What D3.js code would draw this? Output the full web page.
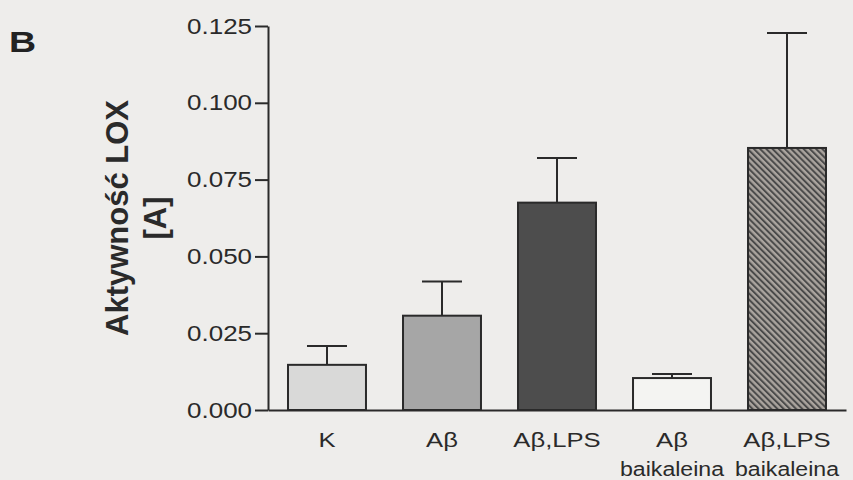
<!DOCTYPE html>
<html>
<head>
<meta charset="utf-8">
<script src="https://cdn.jsdelivr.net/npm/d3@7"></script>
<style>
  html, body { margin: 0; padding: 0; background: #eeedeb; }
  svg { display: block; font-family: "Liberation Sans", Arial, sans-serif; }
</style>
</head>
<body>
<svg id="chart" width="853" height="480"></svg>
<script>
// data
const categories = ['K', 'A\u03b2', 'A\u03b2,LPS', 'A\u03b2', 'A\u03b2,LPS'];
const subLabels = ['', '', '', 'baikaleina', 'baikaleina'];
const means = [0.0147, 0.0307, 0.0675, 0.0104, 0.0853];
const sems = [0.0061, 0.0111, 0.0145, 0.0013, 0.0374];
const fills = ['#d9d9d8', '#a6a6a6', '#4d4d4d', '#f4f4f2', 'url(#hatch)'];
const yTicks = [0, 0.025, 0.05, 0.075, 0.1, 0.125];

const ink = '#2a2a2a';
const svg = d3.select('#chart');

// hatch for the last bar
const defs = svg.append('defs');
const hatch = defs.append('pattern')
    .attr('id', 'hatch')
    .attr('patternUnits', 'userSpaceOnUse')
    .attr('width', 4.4)
    .attr('height', 4.4)
    .attr('patternTransform', 'rotate(-45)');
hatch.append('rect')
    .attr('width', 4.4).attr('height', 4.4)
    .attr('fill', '#aaa49e');
hatch.append('line')
    .attr('x1', 1).attr('x2', 1)
    .attr('y1', 0).attr('y2', 4.4)
    .attr('stroke', '#4a4a4a')
    .attr('stroke-width', 2);

const idx = d3.range(categories.length);

const x = d3.scaleBand()
    .domain(idx)
    .range([268, 846])
    .paddingInner(0.322)
    .paddingOuter(0.174);

const y = d3.scaleLinear()
    .domain([0, 0.125])
    .range([410, 26]);

// bars
svg.append('g')
    .selectAll('rect')
    .data(idx)
    .enter()
    .append('rect')
    .attr('x', i => x(i))
    .attr('y', i => y(means[i]))
    .attr('width', x.bandwidth())
    .attr('height', i => y(0) - y(means[i]))
    .attr('fill', i => fills[i])
    .attr('stroke', ink)
    .attr('stroke-width', 2);

// error bars (upper only)
const err = svg.append('g')
    .attr('stroke', ink)
    .attr('stroke-width', 2);
err.selectAll('line.stem')
    .data(idx)
    .enter()
    .append('line')
    .attr('class', 'stem')
    .attr('x1', i => x(i) + x.bandwidth() / 2)
    .attr('x2', i => x(i) + x.bandwidth() / 2)
    .attr('y1', i => y(means[i]))
    .attr('y2', i => y(means[i] + sems[i]));
err.selectAll('line.cap')
    .data(idx)
    .enter()
    .append('line')
    .attr('class', 'cap')
    .attr('x1', i => x(i) + x.bandwidth() / 2 - 20)
    .attr('x2', i => x(i) + x.bandwidth() / 2 + 20)
    .attr('y1', i => y(means[i] + sems[i]))
    .attr('y2', i => y(means[i] + sems[i]));

// y axis
const yAxis = svg.append('g')
    .attr('transform', 'translate(268,0)')
    .call(d3.axisLeft(y)
        .tickValues(yTicks)
        .tickFormat(d3.format('.3f'))
        .tickSize(13)
        .tickSizeOuter(0));
yAxis.select('.domain').attr('stroke', ink).attr('stroke-width', 2);
yAxis.selectAll('.tick line').attr('stroke', ink).attr('stroke-width', 2);
yAxis.selectAll('.tick text')
    .attr('x', 0)
    .attr('transform', 'translate(-16,0) scale(1.18,1)')
    .attr('font-size', 22)
    .attr('font-family', '"Liberation Sans", Arial, sans-serif')
    .attr('fill', '#2a2a2a');

// x axis (line only)
const xAxis = svg.append('g')
    .attr('transform', 'translate(0,410)')
    .call(d3.axisBottom(x).tickSize(0).tickSizeOuter(0).tickFormat(''));
xAxis.select('.domain').attr('stroke', ink).attr('stroke-width', 2);

// category labels
const labels = svg.append('g')
    .attr('fill', '#2a2a2a')
    .attr('font-size', 21)
    .attr('text-anchor', 'middle');
labels.selectAll('text.cat')
    .data(idx)
    .enter()
    .append('text')
    .attr('class', 'cat')
    .attr('transform', i => `translate(${x(i) + x.bandwidth() / 2},447) scale(1.22,1)`)
    .text(i => categories[i]);
labels.selectAll('text.sub')
    .data(idx.filter(i => subLabels[i]))
    .enter()
    .append('text')
    .attr('class', 'sub')
    .attr('transform', i => `translate(${x(i) + x.bandwidth() / 2},476) scale(1.1,1)`)
    .text(i => subLabels[i]);

// y axis title
const yTitle = svg.append('g')
    .attr('fill', '#2a2a2a')
    .attr('font-weight', 'bold')
    .attr('font-size', 31)
    .attr('text-anchor', 'middle');
yTitle.append('text')
    .attr('transform', 'translate(128,218) rotate(-90)')
    .text('Aktywność LOX');
yTitle.append('text')
    .attr('transform', 'translate(166,218) rotate(-90)')
    .text('[A]');

// panel letter
svg.append('text')
    .attr('transform', 'translate(9,52) scale(1.25,1)')
    .attr('font-size', 30)
    .attr('font-weight', 'bold')
    .attr('fill', '#222')
    .text('B');
</script>
</body>
</html>
